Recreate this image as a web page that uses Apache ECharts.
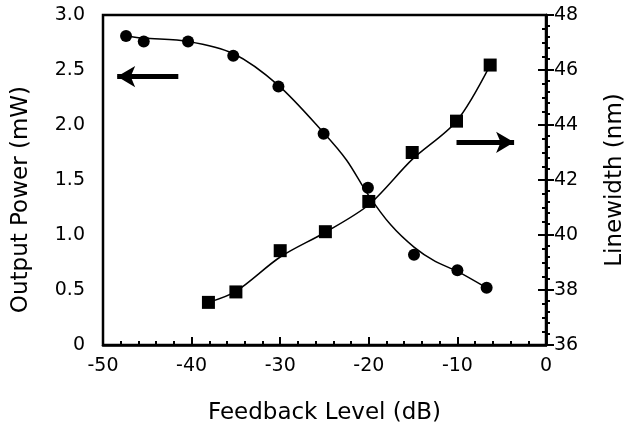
<!DOCTYPE html>
<html>
<head>
<meta charset="utf-8">
<script src="https://cdn.jsdelivr.net/npm/echarts/dist/echarts.min.js"></script>
<style>html,body{margin:0;padding:0;background:#fff;}#c{width:632px;height:427px;}</style>
</head>
<body>
<div id="c"></div>
<script>
// Output power (circles, left axis)
const powerX = [-47.4, -45.4, -40.4, -35.3, -30.2, -25.1, -20.1, -14.9, -10.0, -6.7];
const powerY = [2.81, 2.76, 2.76, 2.63, 2.35, 1.92, 1.43, 0.82, 0.68, 0.52];
// Fitted curve through the power data
const powerFitX = [-47.4, -45.4, -40.4, -35.3, -30.2, -25.1, -22.5, -20.1, -17.5, -14.9, -12.5, -10.0, -6.7];
const powerFitY = [2.81, 2.79, 2.76, 2.65, 2.36, 1.93, 1.68, 1.37, 1.09, 0.89, 0.76, 0.67, 0.52];
// Linewidth (squares, right axis)
const lwX = [-38.1, -35.0, -30.0, -24.9, -20.0, -15.1, -10.1, -6.3];
const lwY = [37.55, 37.93, 39.43, 40.12, 41.22, 43.0, 44.14, 46.18];
// Fitted curve through the linewidth data
const lwFitX = [-38.1, -35.0, -30.0, -24.9, -20.0, -15.1, -10.1, -6.3];
const lwFitY = [37.55, 37.95, 39.2, 40.1, 41.1, 42.75, 44.14, 46.18];
// Arrow annotations
const leftArrow = [[-41.5, 2.44], [-48.4, 2.44]];
const rightArrow = [[-10.1, 43.37], [-3.6, 43.37]];

const FONT = 'DejaVu Sans';
const chart = echarts.init(document.getElementById('c'), null, {renderer: 'canvas'});
const tick = {show: true, inside: true, length: 8, lineStyle: {color: '#000', width: 2}};
const minor = (n) => ({show: true, splitNumber: n, length: 4, lineStyle: {color: '#000', width: 2}});
const label = (extra) => Object.assign({color: '#000', fontSize: 19, fontFamily: FONT}, extra);
const nameStyle = {color: '#000', fontSize: 23, fontFamily: FONT};
const axisLine = {show: true, lineStyle: {color: '#000', width: 2.5}};
const arrowLine = (pts) => ({
  silent: true, symbol: ['none', 'arrow'], symbolSize: [16, 18],
  lineStyle: {color: '#000', width: 5, type: 'solid'}, label: {show: false},
  data: [[{coord: pts[0]}, {coord: pts[1]}]]
});
chart.setOption({
  animation: false,
  backgroundColor: '#fff',
  grid: {left: 103, right: 86, top: 15, bottom: 82, show: true, borderColor: '#000', borderWidth: 2.5,
         outerBoundsMode: 'none', containLabel: false},
  graphic: [{
    type: 'text', left: 10, top: 86, rotation: Math.PI / 2,
    style: {text: 'Output Power (mW)', fill: '#000', font: '23px "DejaVu Sans"'}
  }],
  xAxis: {
    type: 'value', min: -50, max: 0, interval: 10,
    axisLine: axisLine, axisTick: tick, minorTick: minor(5), splitLine: {show: false},
    name: 'Feedback Level (dB)', nameLocation: 'middle', nameGap: 57, nameTextStyle: nameStyle,
    axisLabel: label({margin: 12})
  },
  yAxis: [
    {
      type: 'value', min: 0, max: 3, interval: 0.5, position: 'left',
      axisLine: axisLine, axisTick: tick, minorTick: minor(5), splitLine: {show: false},
      axisLabel: label({margin: 18, formatter: v => v === 0 ? '0' : v.toFixed(1)})
    },
    {
      type: 'value', min: 36, max: 48, interval: 2, position: 'right',
      axisLine: axisLine, axisTick: {show: true, inside: true, length: 8, lineStyle: {color: '#000', width: 2}},
      minorTick: minor(4), splitLine: {show: false},
      name: 'Linewidth (nm)', nameLocation: 'middle', nameGap: 58, nameTextStyle: nameStyle,
      axisLabel: label({margin: 8})
    }
  ],
  series: [
    {
      type: 'line', yAxisIndex: 0, smooth: 0.3,
      data: powerFitX.map((x, i) => [x, powerFitY[i]]),
      symbol: 'none', lineStyle: {color: '#000', width: 1.5},
      markLine: arrowLine(leftArrow)
    },
    {
      type: 'scatter', yAxisIndex: 0,
      data: powerX.map((x, i) => [x, powerY[i]]),
      symbol: 'circle', symbolSize: 12, itemStyle: {color: '#000', opacity: 1}
    },
    {
      type: 'line', yAxisIndex: 1, smooth: 0.3,
      data: lwFitX.map((x, i) => [x, lwFitY[i]]),
      symbol: 'none', lineStyle: {color: '#000', width: 1.5},
      markLine: arrowLine(rightArrow)
    },
    {
      type: 'scatter', yAxisIndex: 1,
      data: lwX.map((x, i) => [x, lwY[i]]),
      symbol: 'rect', symbolSize: 13, itemStyle: {color: '#000', opacity: 1}
    }
  ]
});
</script>
</body>
</html>
